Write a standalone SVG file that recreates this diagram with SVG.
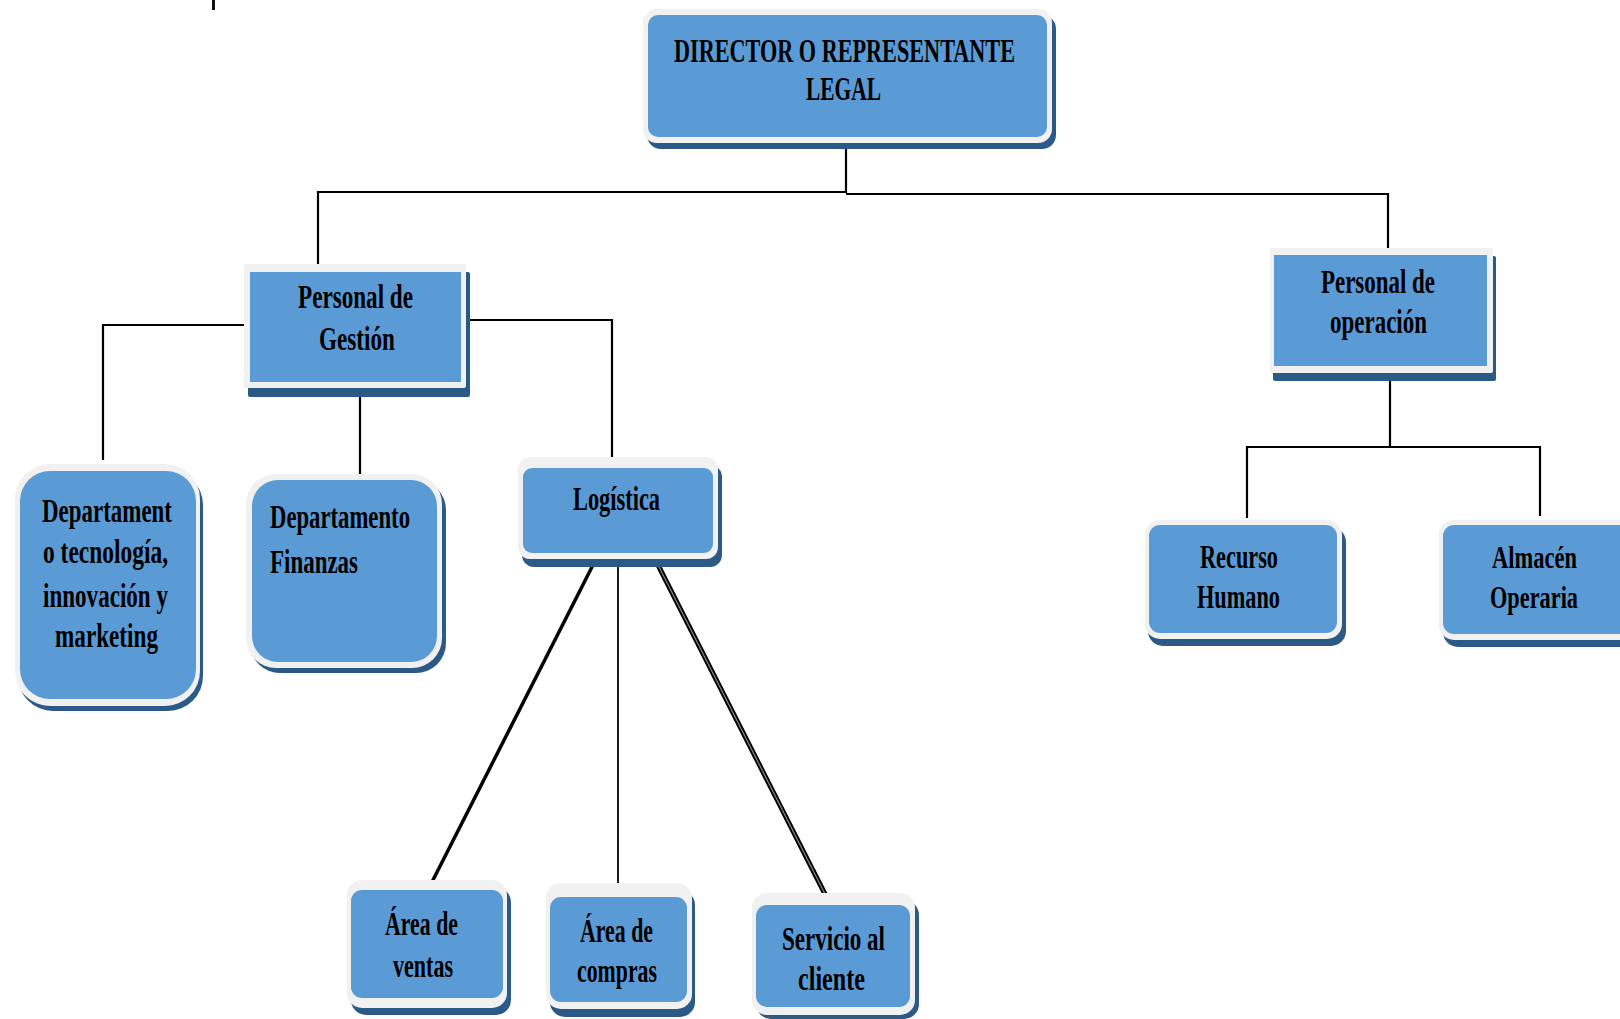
<svg xmlns="http://www.w3.org/2000/svg" width="1620" height="1019" viewBox="0 0 1620 1019">
<style>
.sh{fill:#2c5a87}
.bd{fill:#f1f1f1}
.bx{fill:#5b9bd5}
.t{font-weight:bold;font-size:34px;fill:#000}
.c{stroke:#000;stroke-width:2.2;fill:none}
</style>
<rect width="1620" height="1019" fill="#ffffff"/>
<rect x="212" y="0" width="3" height="10" fill="#111"/>
<g id="connectors">
<polyline class="c" points="846,147 846,193"/>
<polyline class="c" points="318,264 318,192 846,192"/>
<polyline class="c" points="846,194 1388,194 1388,250"/>
<polyline class="c" points="244,325 103,325 103,460"/>
<polyline class="c" points="360,390 360,476"/>
<polyline class="c" points="468,320 612,320 612,458"/>
<line x1="594" y1="563" x2="432" y2="882" stroke="#000" stroke-width="3.5"/>
<line x1="618" y1="563" x2="618" y2="886" stroke="#000" stroke-width="1.8"/>
<line x1="658" y1="565" x2="828" y2="900" stroke="#000" stroke-width="5"/>
<line x1="658" y1="565" x2="828" y2="900" stroke="#888" stroke-width="1.2"/>
<polyline class="c" points="1390,380 1390,447"/>
<polyline class="c" points="1247,518 1247,447 1540,447 1540,516"/>
</g>
<g font-family="'Liberation Serif', 'Times New Roman', serif">
<g id="director">
<rect class="sh" x="647" y="15" width="409" height="134" rx="14"/>
<rect class="bd" x="643" y="9" width="409" height="134" rx="14"/>
<rect class="bx" x="648" y="15" width="399" height="122" rx="10"/>
<text class="t" x="674" y="62" textLength="341" lengthAdjust="spacingAndGlyphs">DIRECTOR O REPRESENTANTE</text>
<text class="t" x="806" y="100" textLength="75" lengthAdjust="spacingAndGlyphs">LEGAL</text>
</g>
<g id="gestion">
<rect class="sh" x="248" y="272" width="222" height="125" rx="2"/>
<rect class="bd" x="244" y="264" width="222" height="124" rx="2"/>
<rect class="bx" x="250" y="272" width="211" height="110"/>
<text class="t" x="298" y="308" textLength="115" lengthAdjust="spacingAndGlyphs">Personal de</text>
<text class="t" x="319" y="350" textLength="76" lengthAdjust="spacingAndGlyphs">Gestión</text>
</g>
<g id="operacion">
<rect class="sh" x="1273" y="256" width="223" height="125" rx="2"/>
<rect class="bd" x="1270" y="248" width="223" height="125" rx="2"/>
<rect class="bx" x="1274" y="255" width="213" height="111"/>
<text class="t" x="1321" y="293" textLength="114" lengthAdjust="spacingAndGlyphs">Personal de</text>
<text class="t" x="1330" y="333" textLength="97" lengthAdjust="spacingAndGlyphs">operación</text>
</g>
<g id="dep-tecnologia">
<rect class="sh" x="18" y="470" width="185" height="241" rx="35"/>
<rect class="bd" x="15" y="464" width="185" height="242" rx="35"/>
<rect class="bx" x="20" y="471" width="176" height="228" rx="30"/>
<text class="t" x="42" y="522" textLength="130" lengthAdjust="spacingAndGlyphs">Departament</text>
<text class="t" x="43" y="563" textLength="125" lengthAdjust="spacingAndGlyphs">o tecnología,</text>
<text class="t" x="43" y="607" textLength="125" lengthAdjust="spacingAndGlyphs">innovación y</text>
<text class="t" x="55" y="647" textLength="103" lengthAdjust="spacingAndGlyphs">marketing</text>
</g>
<g id="dep-finanzas">
<rect class="sh" x="250" y="480" width="196" height="193" rx="30"/>
<rect class="bd" x="246" y="474" width="196" height="194" rx="30"/>
<rect class="bx" x="252" y="480" width="185" height="182" rx="26"/>
<text class="t" x="270" y="528" textLength="140" lengthAdjust="spacingAndGlyphs">Departamento</text>
<text class="t" x="270" y="573" textLength="88" lengthAdjust="spacingAndGlyphs">Finanzas</text>
</g>
<g id="logistica">
<rect class="sh" x="522" y="465" width="200" height="102" rx="12"/>
<rect class="bd" x="518" y="457" width="200" height="102" rx="12"/>
<rect class="bx" x="523" y="468" width="190" height="85" rx="9"/>
<text class="t" x="573" y="510" textLength="87" lengthAdjust="spacingAndGlyphs">Logística</text>
</g>
<g id="recurso-humano">
<rect class="sh" x="1148" y="527" width="198" height="119" rx="15"/>
<rect class="bd" x="1145" y="520" width="197" height="119" rx="15"/>
<rect class="bx" x="1149" y="525" width="188" height="108" rx="11"/>
<text class="t" x="1200" y="568" textLength="78" lengthAdjust="spacingAndGlyphs">Recurso</text>
<text class="t" x="1197" y="608" textLength="83" lengthAdjust="spacingAndGlyphs">Humano</text>
</g>
<g id="almacen">
<path class="sh" d="M1458,527 H1620 V647 H1458 A15,15 0 0 1 1443,632 V542 A15,15 0 0 1 1458,527 Z"/>
<path class="bd" d="M1454,520 H1620 V640 H1454 A15,15 0 0 1 1439,625 V535 A15,15 0 0 1 1454,520 Z"/>
<path class="bx" d="M1454,525 H1620 V634 H1454 A11,11 0 0 1 1443,623 V536 A11,11 0 0 1 1454,525 Z"/>
<text class="t" x="1492" y="568" font-size="31" style="font-size:31px" textLength="85" lengthAdjust="spacingAndGlyphs">Almacén</text>
<text class="t" x="1490" y="608" font-size="31" style="font-size:31px" textLength="88" lengthAdjust="spacingAndGlyphs">Operaria</text>
</g>
<g id="area-ventas">
<rect class="sh" x="351" y="887" width="160" height="128" rx="15"/>
<rect class="bd" x="347" y="880" width="160" height="128" rx="15"/>
<rect class="bx" x="351" y="890" width="152" height="108" rx="11"/>
<text class="t" x="385" y="935" textLength="73" lengthAdjust="spacingAndGlyphs">Área de</text>
<text class="t" x="393" y="977" textLength="60" lengthAdjust="spacingAndGlyphs">ventas</text>
</g>
<g id="area-compras">
<rect class="sh" x="550" y="890" width="145" height="127" rx="15"/>
<rect class="bd" x="546" y="883" width="146" height="126" rx="15"/>
<rect class="bx" x="550" y="897" width="137" height="105" rx="11"/>
<text class="t" x="580" y="942" textLength="73" lengthAdjust="spacingAndGlyphs">Área de</text>
<text class="t" x="577" y="982" textLength="80" lengthAdjust="spacingAndGlyphs">compras</text>
</g>
<g id="servicio-cliente">
<rect class="sh" x="756" y="900" width="163" height="119" rx="15"/>
<rect class="bd" x="752" y="893" width="163" height="122" rx="15"/>
<rect class="bx" x="756" y="905" width="154" height="102" rx="11"/>
<text class="t" x="782" y="950" textLength="103" lengthAdjust="spacingAndGlyphs">Servicio al</text>
<text class="t" x="798" y="990" textLength="67" lengthAdjust="spacingAndGlyphs">cliente</text>
</g>
</g>
</svg>
